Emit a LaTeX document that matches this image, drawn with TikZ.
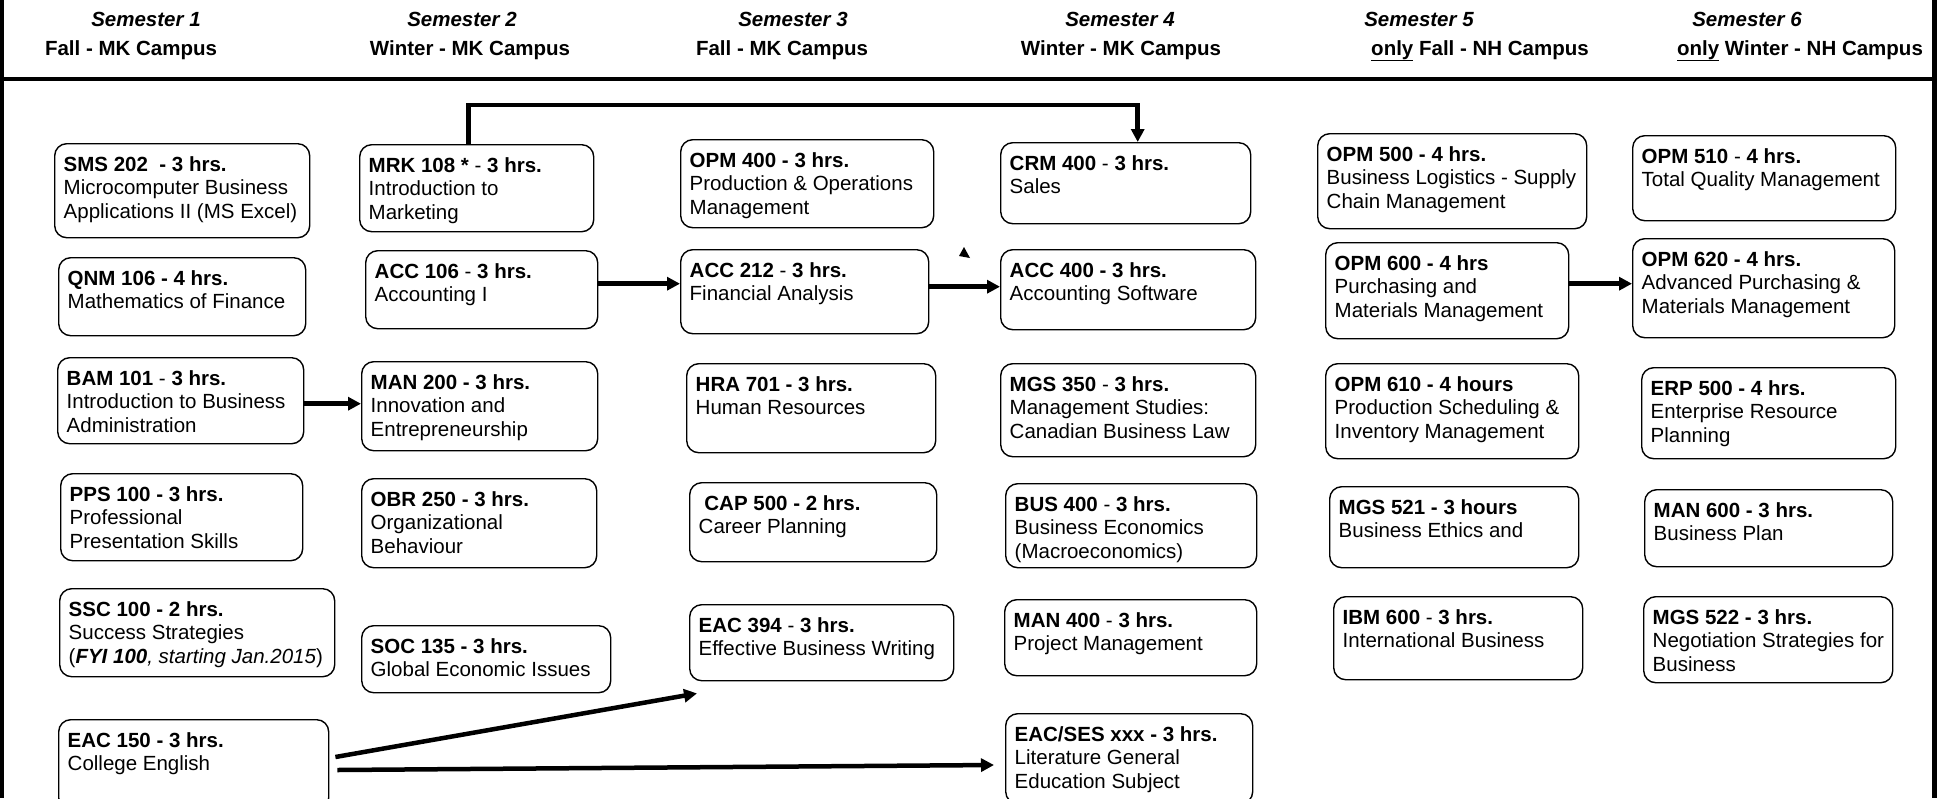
\documentclass[tikz,border=0pt]{standalone}
\usepackage{fontspec}
\setmainfont{Liberation Sans}
\usetikzlibrary{arrows.meta}
\tikzstyle{frame} = [line width=4.5pt]
\tikzstyle{link} = [line width=4.5pt, -{Triangle[length=13pt,width=13pt]}]
\tikzstyle{sem} = [anchor=base, inner sep=0pt, font=\fontsize{20.5}{23.6}\selectfont\bfseries\itshape]
\tikzstyle{camp} = [anchor=base, inner sep=0pt, font=\fontsize{20.5}{23.6}\selectfont\bfseries]
\tikzset{course/.style n args={2}{draw, line width=1.4pt, rounded corners=12pt,
  anchor=north west, inner sep=0pt,
  execute at begin node={\begin{minipage}[t][#2pt][t]{#1pt}\raggedright\leftskip=9pt\rule{0pt}{27.5pt}},
  execute at end node={\end{minipage}}}}

\begin{document}
\begin{tikzpicture}[x=1pt, y=1pt, font=\fontsize{20.5}{23.6}\selectfont]
\clip (0,0) rectangle (1937,-798);

% frame
\draw[frame] (2,0) -- (2,-798);
\draw[frame] (1934.5,0) -- (1934.5,-798);
\draw[frame] (0,-79) -- (1937,-79);

% headers
\foreach \n/\x in {1/146, 2/462, 3/793, 4/1120, 5/1419, 6/1747}
  \node[sem] (sem\n) at (\x,-26) {Semester \n};
\foreach \n/\x/\t in {1/131/{Fall - MK Campus}, 2/470/{Winter - MK Campus},
    3/782/{Fall - MK Campus}, 4/1121/{Winter - MK Campus},
    5/1480/{\underline{only} Fall - NH Campus}, 6/1800/{\underline{only} Winter - NH Campus}}
  \node[camp] (camp\n) at (\x,-55) {\t};

% semester 1
\node[course={255}{94}] (sms202) at (54,-143) {\textbf{SMS 202\ \ - 3 hrs.}\\ Microcomputer Business\\ Applications II (MS Excel)};
\node[course={247}{78}] (qnm106) at (58,-257) {\textbf{QNM 106 - 4 hrs.}\\ Mathematics of Finance};
\node[course={246}{86}] (bam101) at (57,-357) {\textbf{BAM 101} - \textbf{3 hrs.}\\ Introduction to Business\\ Administration};
\node[course={242}{87}] (pps100) at (60,-473) {\textbf{PPS 100 - 3 hrs.}\\ Professional\\ Presentation Skills};
\node[course={275}{88}] (ssc100) at (59,-588) {\textbf{SSC 100 - 2 hrs.}\\ Success Strategies\\ (\textbf{\textit{FYI 100}}\textit{, starting Jan.2015})};
\node[course={270}{90}] (eac150) at (58,-719) {\textbf{EAC 150 - 3 hrs.}\\ College English};

% semester 2
\node[course={234}{87}] (mrk108) at (359,-144) {\textbf{MRK 108 *} - \textbf{3 hrs.}\\ Introduction to\\ Marketing};
\node[course={232}{78}] (acc106) at (365,-250) {\textbf{ACC 106} - \textbf{3 hrs.}\\ Accounting I};
\node[course={236}{89}] (man200) at (361,-361) {\textbf{MAN 200 - 3 hrs.}\\ Innovation and\\ Entrepreneurship};
\node[course={235}{89}] (obr250) at (361,-478) {\textbf{OBR 250 - 3 hrs.}\\ Organizational\\ Behaviour};
\node[course={249}{67}] (soc135) at (361,-625) {\textbf{SOC 135 - 3 hrs.}\\ Global Economic Issues};

% semester 3
\node[course={253}{88}] (opm400) at (680,-139) {\textbf{OPM 400 - 3 hrs.}\\ Production \& Operations\\ Management};
\node[course={248}{84}] (acc212) at (680,-249) {\textbf{ACC 212} - \textbf{3 hrs.}\\ Financial Analysis};
\node[course={249}{89}] (hra701) at (686,-363) {\textbf{HRA 701 - 3 hrs.}\\ Human Resources};
\node[course={247}{79}] (cap500) at (689,-482) {\textbf{\ CAP 500 - 2 hrs.}\\ Career Planning};
\node[course={264}{76}] (eac394) at (689,-604) {\textbf{EAC 394} - \textbf{3 hrs.}\\ Effective Business Writing};

% semester 4
\node[course={250}{81}] (crm400) at (1000,-142) {\textbf{CRM 400} - \textbf{3 hrs.}\\ Sales};
\node[course={255}{80}] (acc400) at (1000,-249) {\textbf{ACC 400 - 3 hrs.}\\ Accounting Software};
\node[course={255}{93}] (mgs350) at (1000,-363) {\textbf{MGS 350} - \textbf{3 hrs.}\\ Management Studies:\\ Canadian Business Law};
\node[course={251}{84}] (bus400) at (1005,-483) {\textbf{BUS 400} - \textbf{3 hrs.}\\ Business Economics\\ (Macroeconomics)};
\node[course={252}{76}] (man400) at (1004,-599) {\textbf{MAN 400} - \textbf{3 hrs.}\\ Project Management};
\node[course={247}{90}] (eacses) at (1005,-713) {\textbf{EAC/SES xxx - 3 hrs.}\\ Literature General\\ Education Subject};

% semester 5
\node[course={269}{95}] (opm500) at (1317,-133) {\textbf{OPM 500 - 4 hrs.}\\ Business Logistics - Supply\\ Chain Management};
\node[course={243}{96}] (opm600) at (1325,-242) {\textbf{OPM 600 - 4 hrs}\\ Purchasing and\\ Materials Management};
\node[course={253}{95}] (opm610) at (1325,-363) {\textbf{OPM 610 - 4 hours}\\ Production Scheduling \&\\ Inventory Management};
\node[course={249}{81}] (mgs521) at (1329,-486) {\textbf{MGS 521 - 3 hours}\\ Business Ethics and};
\node[course={249}{83}] (ibm600) at (1333,-596) {\textbf{IBM 600} - \textbf{3 hrs.}\\ International Business};

% semester 6
\node[course={263}{85}] (opm510) at (1632,-135) {\textbf{OPM 510} - \textbf{4 hrs.}\\ Total Quality Management};
\node[course={262}{99}] (opm620) at (1632,-238) {\textbf{OPM 620 - 4 hrs.}\\ Advanced Purchasing \&\\ Materials Management};
\node[course={254}{91}] (erp500) at (1641,-367) {\textbf{ERP 500 - 4 hrs.}\\ Enterprise Resource\\ Planning};
\node[course={248}{77}] (man600) at (1644,-489) {\textbf{MAN 600 - 3 hrs.}\\ Business Plan};
\node[course={249}{86}] (mgs522) at (1643,-596) {\textbf{MGS 522 - 3 hrs.}\\ Negotiation Strategies for\\ Business};

% prerequisites
\draw[link] ([xshift=-8pt]mrk108.north) -- ++(0,39) -| ([xshift=12pt]crm400.north);
\draw[link] ([yshift=-3pt]bam101.east) -- ([yshift=-3pt]bam101.east -| man200.west);
\draw[link] ([yshift=6pt]acc106.east) -- ([yshift=6pt]acc106.east -| acc212.west);
\draw[link] ([yshift=5pt]acc212.east) -- ([yshift=5pt]acc212.east -| acc400.west);
\draw[link] ([yshift=7pt]opm600.east) -- ([yshift=7pt]opm600.east -| opm620.west);
\draw[link] ([shift={(6,-38)}]eac150.north east) -- ([shift={(8,-12)}]eac394.south west);
\draw[link] ([shift={(8,-51)}]eac150.north east) -- ([shift={(-11,-52)}]eacses.north west);

\fill (959,-256) -- (970,-258) -- (964,-247) -- cycle;
\end{tikzpicture}
\end{document}
